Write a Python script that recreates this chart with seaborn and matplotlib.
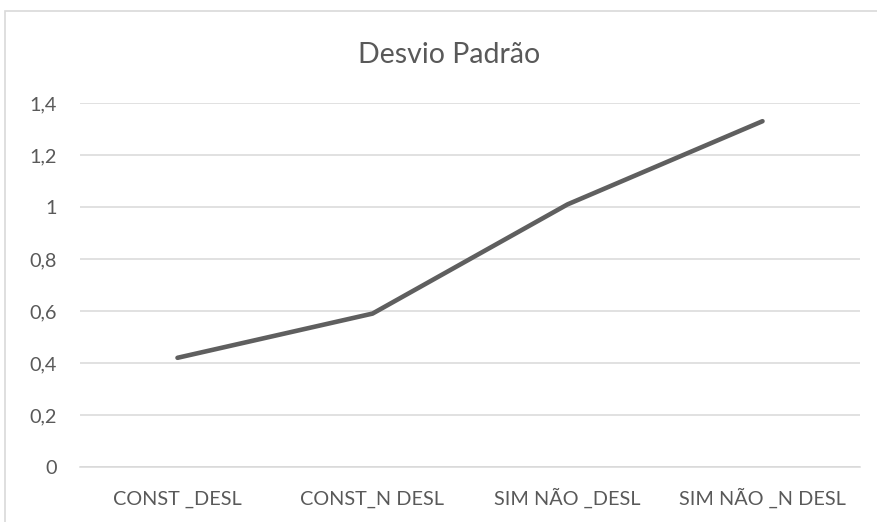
from matplotlib import pyplot as plt
from matplotlib.patches import Rectangle
from matplotlib.ticker import FuncFormatter
import pandas as pd
import seaborn as sns

# Chart data
categories = ["CONST _DESL", "CONST_N DESL", "SIM NÃO _DESL", "SIM NÃO _N DESL"]
desvio = [0.42, 0.59, 1.01, 1.33]
y_ticks = [0, 0.2, 0.4, 0.6, 0.8, 1.0, 1.2, 1.4]

sns.set_style("white")
plt.rcParams['font.family'] = ['Lato', 'DejaVu Sans']

text_color = '#595959'
grid_color = '#d9d9d9'

df = pd.DataFrame({'categoria': categories, 'desvio': desvio})

fig = plt.figure(figsize=(8.77, 5.22), dpi=100)
ax = fig.add_axes([80 / 877, 55 / 522, 780 / 877, 364 / 522])

# Line of standard deviations
sns.lineplot(data=df, x='categoria', y='desvio', sort=False, ax=ax,
             color='#5f5f5f', linewidth=3.3, solid_capstyle='round',
             solid_joinstyle='round')

ax.set_xlim(-0.5, len(categories) - 0.5)
ax.set_ylim(0, 1.4)
ax.set_yticks(y_ticks)
ax.yaxis.set_major_formatter(
    FuncFormatter(lambda v, _: f'{v:g}'.replace('.', ',')))

# Excel-like horizontal gridlines, no spines
ax.grid(axis='y', color=grid_color, linewidth=1.1)
ax.grid(axis='x', visible=False)
ax.set_axisbelow(True)
for side in ['top', 'right', 'left']:
    ax.spines[side].set_visible(False)
ax.spines['bottom'].set_color(grid_color)
ax.spines['bottom'].set_linewidth(1.1)

ax.tick_params(axis='both', length=0, labelsize=14.3, colors=text_color)
ax.tick_params(axis='x', pad=27.5)
ax.tick_params(axis='y', pad=17)
# Align category labels on a common baseline (accents would shift them)
for lbl in ax.get_xticklabels():
    lbl.set_verticalalignment('baseline')
ax.set_xlabel('')
ax.set_ylabel('')

# Title
fig.text(449 / 877, 1 - 63 / 522, 'Desvio Padrão', ha='center',
         va='baseline', fontsize=20.5, color=text_color)

# Chart frame
fig.add_artist(Rectangle((5 / 877, -0.1), 1.0, (522 - 11) / 522 + 0.1,
                         transform=fig.transFigure, fill=False,
                         edgecolor=grid_color, linewidth=1.2))

plt.savefig('out.png', dpi=100)
